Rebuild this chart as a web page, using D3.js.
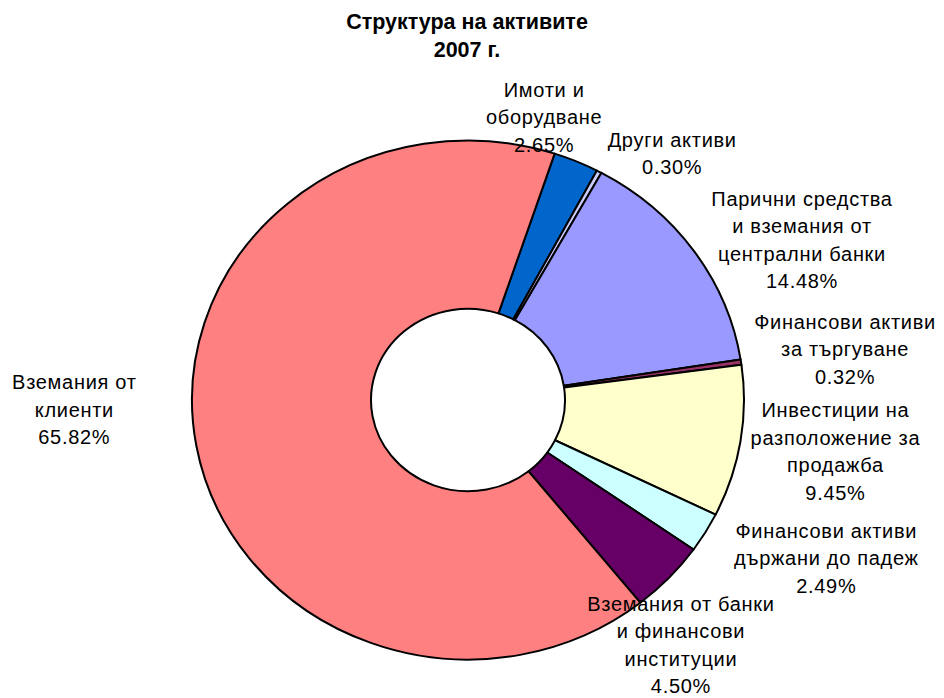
<!DOCTYPE html>
<html>
<head>
<meta charset="utf-8">
<script src="https://cdn.jsdelivr.net/npm/d3@7"></script>
<style>
  body { margin: 0; background: #fff; }
  svg { display: block; font-family: "Liberation Sans", Arial, sans-serif; }
  .slice { stroke: #000; stroke-width: 2; vector-effect: non-scaling-stroke; stroke-linejoin: round; }
  .lbl { font-size: 20px; letter-spacing: 0.7px; fill: #000; }
  .title { font-size: 21.5px; font-weight: bold; fill: #000; }
</style>
</head>
<body>
<div id="chart"></div>
<script>
// categories, clockwise from the top
var categories = [
  "Имоти и\nоборудване",
  "Други активи",
  "Парични средства\nи вземания от\nцентрални банки",
  "Финансови активи\nза търгуване",
  "Инвестиции на\nразположение за\nпродажба",
  "Финансови активи\nдържани до падеж",
  "Вземания от банки\nи финансови\nинституции",
  "Вземания от\nклиенти"
];
var shares = [2.65, 0.30, 14.48, 0.32, 9.45, 2.49, 4.50, 65.82];
var colors = ["#0066CC", "#CCCCFF", "#9999FF", "#993366", "#FFFFCC", "#CCFFFF", "#660066", "#FF8080"];
// label block offset from the slice's outer edge point
var labelOffsets = [[-32, -44], [73, -18], [108, -11], [104, -13], [95, 10], [121, 26], [12, 67], [-122, -36]];
var titleLines = ["Структура на активите", "2007 г."];

var width = 944, height = 698;
var cx = 468, cy = 400, rOuter = 276, rInner = 97, yScale = 259.5 / 276;
var startDeg = 18.3;

var svg = d3.select("#chart").append("svg")
    .attr("width", width)
    .attr("height", height);

svg.selectAll(".title")
    .data(titleLines)
  .enter().append("text")
    .attr("class", "title")
    .attr("x", 467)
    .attr("y", function(d, i) { return 29 + i * 28; })
    .attr("text-anchor", "middle")
    .text(function(d) { return d; });

var pie = d3.pie()
    .sort(null)
    .value(function(d) { return d; })
    .startAngle(startDeg * Math.PI / 180)
    .endAngle((startDeg + 360) * Math.PI / 180);

var arc = d3.arc()
    .innerRadius(rInner)
    .outerRadius(rOuter);

var arcs = pie(shares);

var g = svg.append("g")
    .attr("transform", "translate(" + cx + "," + cy + ") scale(1," + yScale + ")");

g.selectAll(".slice")
    .data(arcs)
  .enter().append("path")
    .attr("class", "slice")
    .attr("d", arc)
    .attr("fill", function(d, i) { return colors[i]; });

var fmt = d3.format(".2f");
var lineH = 27.5;

svg.selectAll(".lbl")
    .data(arcs)
  .enter().append("text")
    .attr("class", "lbl")
    .attr("text-anchor", "middle")
    .each(function(d, i) {
      var a = (d.startAngle + d.endAngle) / 2;
      var ax = cx + rOuter * Math.sin(a);
      var ay = cy - rOuter * yScale * Math.cos(a);
      var lx = ax + labelOffsets[i][0];
      var ly = ay + labelOffsets[i][1];
      var lines = categories[i].split("\n").concat([fmt(d.data) + "%"]);
      var y0 = ly - (lines.length - 1) / 2 * lineH + 7;
      var t = d3.select(this);
      lines.forEach(function(s, k) {
        t.append("tspan")
          .attr("x", lx)
          .attr("y", y0 + k * lineH)
          .text(s);
      });
    });
</script>
</body>
</html>
